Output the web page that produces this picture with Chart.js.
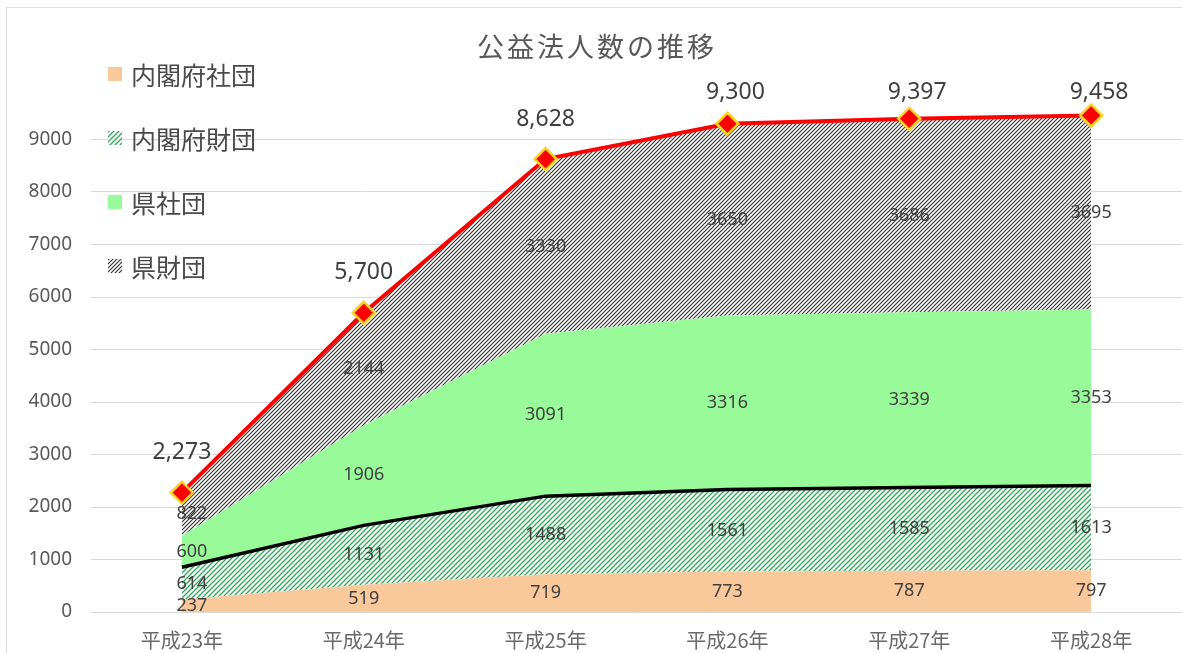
<!DOCTYPE html>
<html lang="ja">
<head>
<meta charset="utf-8">
<title>公益法人数の推移</title>
<script src="https://cdn.jsdelivr.net/npm/chart.js@4/dist/chart.umd.min.js"></script>
<style>
  html, body { margin: 0; padding: 0; background: #ffffff; }
  #wrap { position: relative; width: 1182px; height: 653px; overflow: hidden; }
  #frame { position: absolute; left: 6px; top: 7px; width: 1200px; height: 700px;
           border: 1.5px solid #dedede; box-sizing: border-box; }
  #chart { position: absolute; left: 0; top: 0; }
</style>
</head>
<body>
<div id="wrap">
  <div id="frame"></div>
  <canvas id="chart" width="1182" height="653"></canvas>
</div>
<script>
// Fiscal years on the x axis
const categories = ['平成23年', '平成24年', '平成25年', '平成26年', '平成27年', '平成28年'];

// Counts per category of public-interest corporation
const naikakuShadan = [237, 519, 719, 773, 787, 797];      // 内閣府社団
const naikakuZaidan = [614, 1131, 1488, 1561, 1585, 1613]; // 内閣府財団
const kenShadan     = [600, 1906, 3091, 3316, 3339, 3353]; // 県社団
const kenZaidan     = [822, 2144, 3330, 3650, 3686, 3695]; // 県財団

// Overall totals shown on the red line
const totals = [2273, 5700, 8628, 9300, 9397, 9458];

// Series names
const seriesNames = ['内閣府社団', '内閣府財団', '県社団', '県財団'];
const totalName = '合計';

const chartTitle = '公益法人数の推移';

// Diagonal hatch fills
function makeHatch(size, lineColor, bgColor, lineWidth) {
  const c = document.createElement('canvas');
  c.width = size; c.height = size;
  const g = c.getContext('2d');
  g.fillStyle = bgColor;
  g.fillRect(0, 0, size, size);
  g.strokeStyle = lineColor;
  g.lineWidth = lineWidth;
  g.beginPath();
  g.moveTo(-1, size + 1); g.lineTo(size + 1, -1);
  g.moveTo(-1, 1); g.lineTo(1, -1);
  g.moveTo(size - 1, size + 1); g.lineTo(size + 1, size - 1);
  g.stroke();
  return g.createPattern(c, 'repeat');
}

const ctx = document.getElementById('chart').getContext('2d');
const greenHatch = makeHatch(5, '#3aa462', '#f4fcf6', 1.25);
const greyHatch  = makeHatch(4, '#333333', '#ffffff', 1.15);

const CJK = '"Noto Sans CJK JP", "Noto Sans", sans-serif';
const LAT = '"Noto Sans", "Open Sans", sans-serif';

// Title, legend and value labels drawn on the canvas
const decorations = {
  id: 'decorations',
  afterDatasetsDraw(chart) {
    const g = chart.ctx;
    const xs = chart.scales.x, ys = chart.scales.y;
    g.save();

    // value labels in the middle of each stacked band
    g.font = '18px ' + LAT;
    g.fillStyle = '#404040';
    g.textAlign = 'center';
    g.textBaseline = 'middle';
    const stacks = [naikakuShadan, naikakuZaidan, kenShadan, kenZaidan];
    for (let j = 0; j < categories.length; j++) {
      let base = 0;
      const dx = j === 0 ? 10 : 0;
      stacks.forEach(arr => {
        const v = arr[j];
        const y = ys.getPixelForValue(base + v / 2);
        g.fillText(String(v), xs.getPixelForValue(j) + dx, y);
        base += v;
      });
    }

    // totals above the diamonds
    g.font = '23px ' + LAT;
    g.fillStyle = '#404040';
    const meta = chart.getDatasetMeta(4);
    meta.data.forEach((pt, j) => {
      const y = Math.max(pt.y - 40, chart.chartArea.top + 5);
      const x = pt.x + (y > pt.y - 40 ? 8 : 0);
      g.fillText(totals[j].toLocaleString('en-US'), x, y);
    });

    // title
    g.font = '27px ' + CJK;
    g.fillStyle = '#595959';
    g.letterSpacing = '3px';
    g.fillText(chartTitle, 597, 47);
    g.letterSpacing = '0px';

    // legend
    g.font = '25px ' + CJK;
    g.textAlign = 'left';
    chart.data.datasets.slice(0, 4).forEach((ds, k) => {
      const cy = 74 + k * 64;
      g.fillStyle = ds.backgroundColor;
      g.fillRect(108, cy - 7, 14, 14);
      g.fillStyle = '#4a4a4a';
      g.fillText(ds.label, 131, cy + 1);
    });
    g.restore();
  }
};

const areaBase = {
  type: 'line',
  stack: 'parts',
  pointRadius: 0,
  pointHoverRadius: 0,
  borderWidth: 0,
  tension: 0
};

new Chart(ctx, {
  type: 'line',
  data: {
    labels: categories,
    datasets: [
      Object.assign({}, areaBase, {
        label: seriesNames[0], data: naikakuShadan,
        backgroundColor: '#f9c89b', borderColor: '#f9c89b', fill: 'origin'
      }),
      Object.assign({}, areaBase, {
        label: seriesNames[1], data: naikakuZaidan,
        backgroundColor: greenHatch, borderColor: '#000000', borderWidth: 3.5, fill: '-1'
      }),
      Object.assign({}, areaBase, {
        label: seriesNames[2], data: kenShadan,
        backgroundColor: '#99fa99', borderColor: '#99fa99', fill: '-1'
      }),
      Object.assign({}, areaBase, {
        label: seriesNames[3], data: kenZaidan,
        backgroundColor: greyHatch, borderColor: 'rgba(0,0,0,0)', fill: '-1'
      }),
      {
        type: 'line',
        label: totalName,
        data: totals,
        stack: 'total',
        order: -1,
        fill: false,
        borderColor: '#ff0000',
        borderWidth: 4,
        tension: 0,
        pointStyle: 'rectRot',
        pointRadius: 11,
        pointHoverRadius: 11,
        pointBackgroundColor: '#ff0000',
        pointBorderColor: '#ffd21f',
        pointBorderWidth: 2.5
      }
    ]
  },
  options: {
    responsive: false,
    animation: false,
    events: [],
    layout: { autoPadding: false, padding: { top: 87, left: 0, right: 0, bottom: 0 } },
    plugins: {
      legend: { display: false },
      title: { display: false },
      tooltip: { enabled: false }
    },
    scales: {
      x: {
        offset: true,
        grid: { display: false, drawTicks: false },
        border: { display: false },
        ticks: { color: '#6a6a6a', font: { family: CJK, size: 20 }, padding: 16, maxRotation: 0 },
        afterFit(scale) { scale.height = 41; }
      },
      y: {
        stacked: true,
        min: 0,
        max: 10000,
        grid: {
          drawTicks: false,
          lineWidth: 1,
          color: c => (c.tick && c.tick.value === 10000) ? 'rgba(0,0,0,0)' : '#d9d9d9'
        },
        border: { display: false },
        ticks: {
          stepSize: 1000,
          padding: 19,
          color: '#595959',
          font: { family: LAT, size: 19 },
          callback: v => (v === 10000 ? '' : String(v))
        },
        afterFit(scale) { scale.width = 91; }
      }
    }
  },
  plugins: [decorations]
});
</script>
</body>
</html>
